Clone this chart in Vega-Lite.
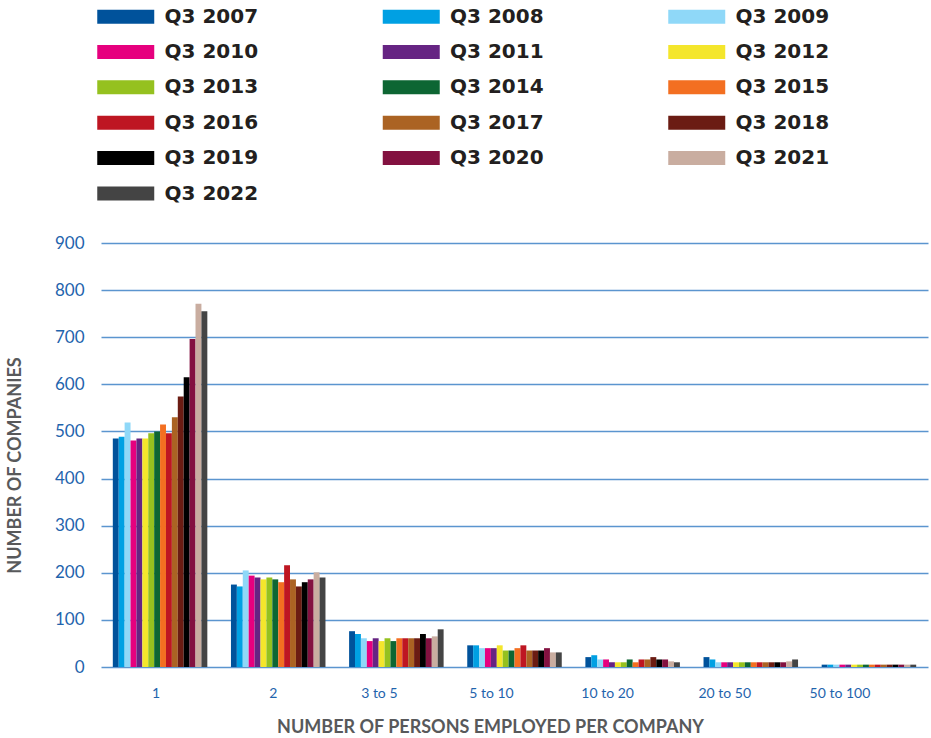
{
  "$schema": "https://vega.github.io/schema/vega-lite/v6.json",
  "width": 827,
  "height": 424,
  "autosize": {"type": "none"},
  "padding": {"left": 101, "top": 243, "right": 3, "bottom": 71},
  "background": "white",
  "config": {"view": {"stroke": null}},
  "data": {"values": [
    {"cat":"1","year":"Q3 2007","value":485},{"cat":"1","year":"Q3 2008","value":489},{"cat":"1","year":"Q3 2009","value":519},{"cat":"1","year":"Q3 2010","value":481},{"cat":"1","year":"Q3 2011","value":485},{"cat":"1","year":"Q3 2012","value":485},{"cat":"1","year":"Q3 2013","value":496},{"cat":"1","year":"Q3 2014","value":500},{"cat":"1","year":"Q3 2015","value":515},{"cat":"1","year":"Q3 2016","value":496},{"cat":"1","year":"Q3 2017","value":530},{"cat":"1","year":"Q3 2018","value":574},{"cat":"1","year":"Q3 2019","value":615},{"cat":"1","year":"Q3 2020","value":696},{"cat":"1","year":"Q3 2021","value":771},{"cat":"1","year":"Q3 2022","value":755},
    {"cat":"2","year":"Q3 2007","value":175},{"cat":"2","year":"Q3 2008","value":171},{"cat":"2","year":"Q3 2009","value":205},{"cat":"2","year":"Q3 2010","value":194},{"cat":"2","year":"Q3 2011","value":190},{"cat":"2","year":"Q3 2012","value":186},{"cat":"2","year":"Q3 2013","value":190},{"cat":"2","year":"Q3 2014","value":186},{"cat":"2","year":"Q3 2015","value":180},{"cat":"2","year":"Q3 2016","value":216},{"cat":"2","year":"Q3 2017","value":186},{"cat":"2","year":"Q3 2018","value":171},{"cat":"2","year":"Q3 2019","value":180},{"cat":"2","year":"Q3 2020","value":186},{"cat":"2","year":"Q3 2021","value":201},{"cat":"2","year":"Q3 2022","value":190},
    {"cat":"3 to 5","year":"Q3 2007","value":76},{"cat":"3 to 5","year":"Q3 2008","value":70},{"cat":"3 to 5","year":"Q3 2009","value":61},{"cat":"3 to 5","year":"Q3 2010","value":55},{"cat":"3 to 5","year":"Q3 2011","value":61},{"cat":"3 to 5","year":"Q3 2012","value":55},{"cat":"3 to 5","year":"Q3 2013","value":61},{"cat":"3 to 5","year":"Q3 2014","value":55},{"cat":"3 to 5","year":"Q3 2015","value":61},{"cat":"3 to 5","year":"Q3 2016","value":61},{"cat":"3 to 5","year":"Q3 2017","value":61},{"cat":"3 to 5","year":"Q3 2018","value":61},{"cat":"3 to 5","year":"Q3 2019","value":70},{"cat":"3 to 5","year":"Q3 2020","value":61},{"cat":"3 to 5","year":"Q3 2021","value":65},{"cat":"3 to 5","year":"Q3 2022","value":80},
    {"cat":"5 to 10","year":"Q3 2007","value":46},{"cat":"5 to 10","year":"Q3 2008","value":46},{"cat":"5 to 10","year":"Q3 2009","value":40},{"cat":"5 to 10","year":"Q3 2010","value":40},{"cat":"5 to 10","year":"Q3 2011","value":40},{"cat":"5 to 10","year":"Q3 2012","value":46},{"cat":"5 to 10","year":"Q3 2013","value":35},{"cat":"5 to 10","year":"Q3 2014","value":35},{"cat":"5 to 10","year":"Q3 2015","value":40},{"cat":"5 to 10","year":"Q3 2016","value":46},{"cat":"5 to 10","year":"Q3 2017","value":35},{"cat":"5 to 10","year":"Q3 2018","value":35},{"cat":"5 to 10","year":"Q3 2019","value":35},{"cat":"5 to 10","year":"Q3 2020","value":40},{"cat":"5 to 10","year":"Q3 2021","value":31},{"cat":"5 to 10","year":"Q3 2022","value":31},
    {"cat":"10 to 20","year":"Q3 2007","value":21},{"cat":"10 to 20","year":"Q3 2008","value":25},{"cat":"10 to 20","year":"Q3 2009","value":16},{"cat":"10 to 20","year":"Q3 2010","value":16},{"cat":"10 to 20","year":"Q3 2011","value":10},{"cat":"10 to 20","year":"Q3 2012","value":10},{"cat":"10 to 20","year":"Q3 2013","value":10},{"cat":"10 to 20","year":"Q3 2014","value":16},{"cat":"10 to 20","year":"Q3 2015","value":10},{"cat":"10 to 20","year":"Q3 2016","value":16},{"cat":"10 to 20","year":"Q3 2017","value":16},{"cat":"10 to 20","year":"Q3 2018","value":21},{"cat":"10 to 20","year":"Q3 2019","value":16},{"cat":"10 to 20","year":"Q3 2020","value":16},{"cat":"10 to 20","year":"Q3 2021","value":12},{"cat":"10 to 20","year":"Q3 2022","value":10},
    {"cat":"20 to 50","year":"Q3 2007","value":21},{"cat":"20 to 50","year":"Q3 2008","value":16},{"cat":"20 to 50","year":"Q3 2009","value":10},{"cat":"20 to 50","year":"Q3 2010","value":10},{"cat":"20 to 50","year":"Q3 2011","value":10},{"cat":"20 to 50","year":"Q3 2012","value":10},{"cat":"20 to 50","year":"Q3 2013","value":10},{"cat":"20 to 50","year":"Q3 2014","value":10},{"cat":"20 to 50","year":"Q3 2015","value":10},{"cat":"20 to 50","year":"Q3 2016","value":10},{"cat":"20 to 50","year":"Q3 2017","value":10},{"cat":"20 to 50","year":"Q3 2018","value":10},{"cat":"20 to 50","year":"Q3 2019","value":10},{"cat":"20 to 50","year":"Q3 2020","value":10},{"cat":"20 to 50","year":"Q3 2021","value":12},{"cat":"20 to 50","year":"Q3 2022","value":16},
    {"cat":"50 to 100","year":"Q3 2007","value":5},{"cat":"50 to 100","year":"Q3 2008","value":5},{"cat":"50 to 100","year":"Q3 2009","value":5},{"cat":"50 to 100","year":"Q3 2010","value":5},{"cat":"50 to 100","year":"Q3 2011","value":5},{"cat":"50 to 100","year":"Q3 2012","value":5},{"cat":"50 to 100","year":"Q3 2013","value":5},{"cat":"50 to 100","year":"Q3 2014","value":5},{"cat":"50 to 100","year":"Q3 2015","value":5},{"cat":"50 to 100","year":"Q3 2016","value":5},{"cat":"50 to 100","year":"Q3 2017","value":5},{"cat":"50 to 100","year":"Q3 2018","value":5},{"cat":"50 to 100","year":"Q3 2019","value":5},{"cat":"50 to 100","year":"Q3 2020","value":5},{"cat":"50 to 100","year":"Q3 2021","value":5},{"cat":"50 to 100","year":"Q3 2022","value":5}
  ]},
  "mark": {"type": "bar"},
  "encoding": {
    "x": {
      "field": "cat", "type": "nominal", "sort": null,
      "scale": {"paddingInner": 0.2, "paddingOuter": 0.1},
      "axis": {
        "title": "NUMBER OF PERSONS EMPLOYED PER COMPANY",
        "labelAngle": 0, "labelFont": "Lato", "labelFontSize": 14, "labelColor": "#1f64ad",
        "labelPadding": 19, "ticks": false, "domain": false,
        "labelOffset": {
          "condition": [
            {"test": "datum.value == '2'", "value": -5},
            {"test": "datum.value == '3 to 5'", "value": -17},
            {"test": "datum.value == '5 to 10'", "value": -23},
            {"test": "datum.value == '10 to 20'", "value": -25},
            {"test": "datum.value == '20 to 50'", "value": -26},
            {"test": "datum.value == '50 to 100'", "value": -29}
          ],
          "value": -4
        },
        "titleFont": "Lato", "titleFontSize": 18, "titleFontWeight": "bold", "titleColor": "#58595b",
        "titleX": 389, "titleY": 60, "titleBaseline": "middle", "titleAlign": "center"
      }
    },
    "xOffset": {"field": "year", "type": "nominal", "sort": null},
    "y": {
      "field": "value", "type": "quantitative",
      "scale": {"domain": [0, 900]},
      "axis": {
        "title": "NUMBER OF COMPANIES", "values": [0,100,200,300,400,500,600,700,800,900],
        "labelFont": "Lato", "labelFontSize": 17, "labelColor": "#1f64ad", "labelPadding": 17,
        "ticks": false, "domain": false,
        "grid": true, "gridColor": "#5b95cf", "gridWidth": 1.5,
        "titleFont": "Lato", "titleFontSize": 18, "titleFontWeight": "bold", "titleColor": "#58595b",
        "titleX": -86, "titleY": 222, "titleBaseline": "middle", "titleAlign": "center", "titleAngle": -90
      }
    },
    "color": {
      "field": "year", "type": "nominal",
      "scale": {
        "domain": ["Q3 2007","Q3 2008","Q3 2009","Q3 2010","Q3 2011","Q3 2012","Q3 2013","Q3 2014","Q3 2015","Q3 2016","Q3 2017","Q3 2018","Q3 2019","Q3 2020","Q3 2021","Q3 2022"],
        "range": ["#00529b","#00a0e3","#8fd8f8","#e6007e","#662483","#f4e62c","#95c11f","#0d6633","#f36f21","#be1622","#ab6323","#6b1c13","#000000","#831140","#c9ada0","#444444"]
      },
      "legend": {
        "title": null, "orient": "none", "legendX": -4, "legendY": -241, "columns": 3, "direction": "horizontal",
        "symbolType": "M-1,-0.49H3V0.49H-1Z", "symbolSize": 812, "symbolStrokeWidth": 0, "symbolOpacity": 1,
        "labelFont": "DejaVu Sans", "labelFontWeight": "bold", "labelFontSize": 20, "labelColor": "#231f20",
        "labelOffset": 38.5, "labelLimit": 200, "rowPadding": 10.4, "columnPadding": 123.5
      }
    }
  }
}
